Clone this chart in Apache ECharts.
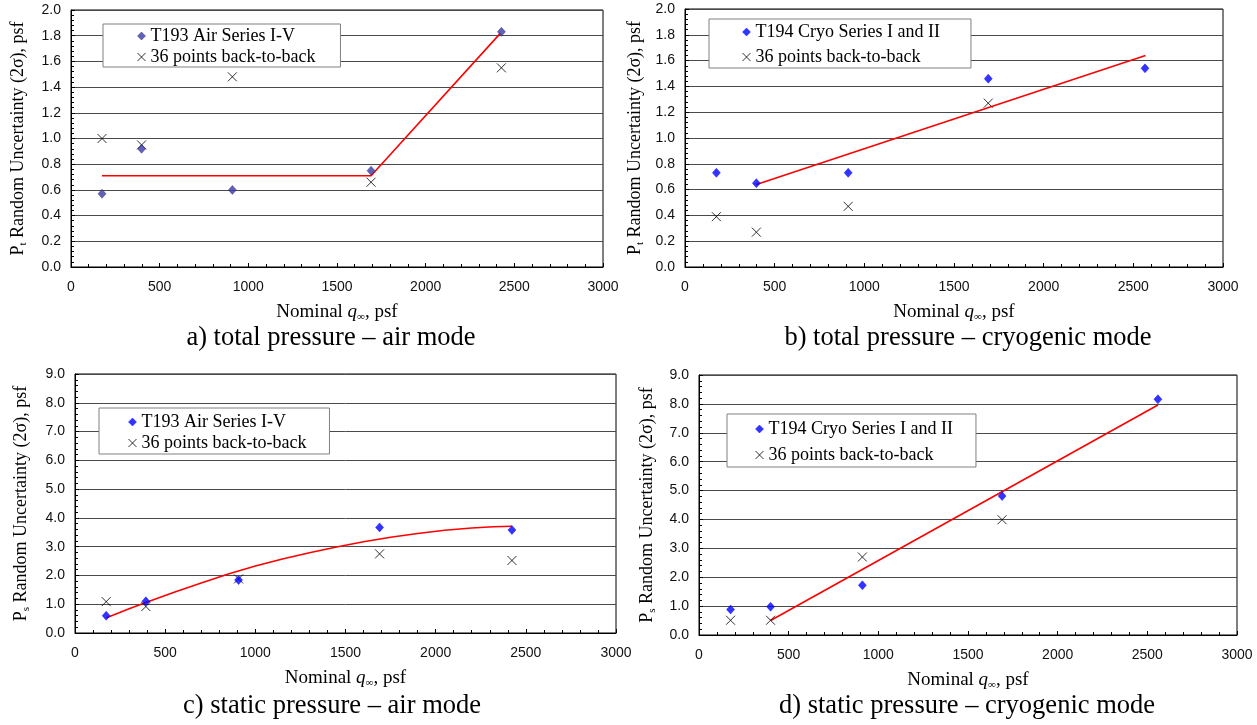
<!DOCTYPE html>
<html>
<head>
<meta charset="utf-8">
<script src="https://cdn.jsdelivr.net/npm/echarts@6/dist/echarts.min.js"></script>
<style>
html,body{margin:0;padding:0;background:#fff;}
#chart{width:1257px;height:725px;}
</style>
</head>
<body>
<div id="chart"></div>
<script>
// ---------- data ----------
// a) total pressure – air mode
const aX = [175, 398, 910, 1692, 2427];
const aSeries = [0.57, 0.92, 0.60, 0.75, 1.83];
const aBack = [1.00, 0.95, 1.48, 0.66, 1.55];
const aFitX = [175, 1692, 2422];
const aFitY = [0.71, 0.71, 1.82];

// b) total pressure – cryogenic mode
const bX = [175, 398, 910, 1691, 2565];
const bSeries = [0.73, 0.65, 0.73, 1.46, 1.54];
const bBackX = [175, 398, 910, 1691];
const bBack = [0.39, 0.27, 0.47, 1.27];
const bFitX = [398, 2568];
const bFitY = [0.64, 1.64];

// c) static pressure – air mode
const cX = [173, 393, 907, 1689, 2423];
const cSeries = [0.60, 1.10, 1.84, 3.67, 3.58];
const cBack = [1.09, 0.92, 1.88, 2.75, 2.52];
const cFitX = [175, 300, 400, 550, 700, 850, 1000, 1150, 1300, 1450, 1600, 1750, 1900, 2050, 2200, 2320, 2423];
const cFitY = [0.53, 0.84, 1.08, 1.42, 1.74, 2.05, 2.33, 2.57, 2.79, 2.99, 3.17, 3.33, 3.46, 3.57, 3.65, 3.69, 3.71];

// d) static pressure – cryogenic mode
const dX = [176, 399, 911, 1690, 2559];
const dSeries = [0.88, 0.98, 1.72, 4.81, 8.16];
const dBackX = [176, 399, 911, 1690];
const dBack = [0.51, 0.51, 2.70, 3.99];
const dFitX = [399, 2559];
const dFitY = [0.50, 7.96];

const airName = 'T193 Air Series I-V';
const cryoName = 'T194 Cryo Series I and II';
const backName = '36 points back-to-back';
const captions = ['a) total pressure – air mode', 'b) total pressure – cryogenic mode',
                  'c) static pressure – air mode', 'd) static pressure – cryogenic mode'];
const xTicks = {min: 0, max: 3000, interval: 500};
const yTicksTotal = {min: 0, max: 2, interval: 0.2};
const yTicksStatic = {min: 0, max: 9, interval: 1};

// ---------- helpers ----------
const SERIF = '"Liberation Serif","Times New Roman",serif';
const SANS = '"Liberation Sans",Arial,sans-serif';
const zip = (xs, ys) => xs.map((x, i) => [x, ys[i]]);
const CROSS = 'path://M0,0L10,10M10,0L0,10';

const grids = [
  {left: 71, top: 10, width: 532, height: 257},
  {left: 685, top: 9, width: 538, height: 258},
  {left: 75, top: 374, width: 541, height: 259},
  {left: 699, top: 375, width: 538, height: 260}
];

const nameRich = {
  m: {fontFamily: SERIF, fontSize: 19, lineHeight: 22, color: '#000'},
  i: {fontFamily: SERIF, fontSize: 19, lineHeight: 22, fontStyle: 'italic', color: '#000'},
  s: {fontFamily: SERIF, fontSize: 11, lineHeight: 12, verticalAlign: 'bottom', color: '#000'}
};
const yNameRich = {
  m: {fontFamily: SERIF, fontSize: 18, lineHeight: 22, color: '#000'},
  s: {fontFamily: SERIF, fontSize: 11, lineHeight: 12, verticalAlign: 'bottom', color: '#000'}
};

function xAxis(idx) {
  return {
    type: 'value', gridIndex: idx, min: xTicks.min, max: xTicks.max, interval: xTicks.interval,
    name: '{m|Nominal }{i|q}{s|∞}{m|, psf}',
    nameLocation: 'middle', nameGap: 34,
    nameTextStyle: {rich: nameRich},
    axisLine: {show: true, lineStyle: {color: '#000', width: 1}},
    axisTick: {show: true, inside: true, length: 4, lineStyle: {color: '#000'}},
    minorTick: {show: true, splitNumber: 5, length: 3, lineStyle: {color: '#000'}},
    axisLabel: {fontFamily: SANS, fontSize: 14, color: '#111', margin: 13,
                formatter: v => String(v)},
    splitLine: {show: false}
  };
}
function yAxis(idx, ticks, sub, gap) {
  return {
    type: 'value', gridIndex: idx, min: ticks.min, max: ticks.max, interval: ticks.interval,
    name: '{m|P}{s|' + sub + '}{m| Random Uncertainty (2σ), psf}',
    nameLocation: 'middle', nameGap: gap, nameRotate: 90,
    nameTextStyle: {rich: yNameRich},
    axisLine: {show: true, lineStyle: {color: '#000', width: 1}},
    axisTick: {show: true, inside: true, length: 4, lineStyle: {color: '#000'}},
    minorTick: {show: true, splitNumber: 5, length: 3, lineStyle: {color: '#000'}},
    axisLabel: {fontFamily: SANS, fontSize: 14, color: '#111', margin: 10,
                formatter: v => v.toFixed(1)},
    splitLine: {show: true, lineStyle: {color: '#4a4a4a', width: 1}}
  };
}
function legend(l, t, pad, gap, mainName, color, border) {
  return {
    left: l, top: t, orient: 'vertical', padding: pad, itemGap: gap,
    itemWidth: 8, itemHeight: 8,
    borderColor: '#808080', borderWidth: 1, backgroundColor: '#fff', borderRadius: 0,
    selectedMode: false,
    textStyle: {fontFamily: SERIF, fontSize: 18, lineHeight: 20, color: '#000'},
    data: [
      {name: mainName, icon: 'diamond', itemStyle: {color: color, borderColor: border, borderWidth: 0.5}},
      {name: backName, icon: CROSS, itemStyle: {color: 'none', borderColor: '#000', borderWidth: 1}}
    ]
  };
}
function panelSeries(idx, name, color, border, sx, sy, bx, by, fx, fy) {
  return [
    {type: 'line', xAxisIndex: idx, yAxisIndex: idx, data: zip(fx, fy), showSymbol: false,
     smooth: false, lineStyle: {color: '#ff0000', width: 1.6}, z: 2, silent: true},
    {type: 'scatter', name: backName, xAxisIndex: idx, yAxisIndex: idx, data: zip(bx, by),
     symbol: CROSS, symbolSize: 9,
     itemStyle: {color: 'none', borderColor: '#000', borderWidth: 1}, z: 3},
    {type: 'scatter', name: name, xAxisIndex: idx, yAxisIndex: idx, data: zip(sx, sy),
     symbol: 'diamond', symbolSize: [8, 9],
     itemStyle: {color: color, borderColor: border, borderWidth: 0.5}, z: 4}
  ];
}

const navy = '#3a3aa8', navyB = '#20206a';
const blue = '#0000ff';

const option = {
  animation: false,
  backgroundColor: '#fff',
  grid: grids.map(g => Object.assign({show: true, borderColor: '#000', borderWidth: 1, backgroundColor: 'transparent'}, g)),
  xAxis: [xAxis(0), xAxis(1), xAxis(2), xAxis(3)],
  yAxis: [yAxis(0, yTicksTotal, 't', 42), yAxis(1, yTicksTotal, 't', 39),
          yAxis(2, yTicksStatic, 's', 43), yAxis(3, yTicksStatic, 's', 41)],
  legend: [
    legend(103, 24, [2, 25, 0, 32], 1, airName, navy, navyB),
    legend(709, 19, [3, 31, 1, 31], 5, cryoName, blue, blue),
    legend(99, 408, [4, 23, 1, 27], 1, airName, blue, blue),
    legend(727, 414, [5, 23, 2, 26], 6, cryoName, blue, blue)
  ],
  title: [
    {text: captions[0], left: 331, top: 323},
    {text: captions[1], left: 968, top: 323},
    {text: captions[2], left: 332, top: 691},
    {text: captions[3], left: 967, top: 691}
  ].map(t => Object.assign({textAlign: 'center', padding: 0,
    textStyle: {fontFamily: SERIF, fontSize: 26.5, fontWeight: 'normal', color: '#000', lineHeight: 30}}, t)),
  series: [].concat(
    panelSeries(0, airName, navy, navyB, aX, aSeries, aX, aBack, aFitX, aFitY),
    panelSeries(1, cryoName, blue, blue, bX, bSeries, bBackX, bBack, bFitX, bFitY),
    panelSeries(2, airName, blue, blue, cX, cSeries, cX, cBack, cFitX, cFitY),
    panelSeries(3, cryoName, blue, blue, dX, dSeries, dBackX, dBack, dFitX, dFitY)
  )
};

const chart = echarts.init(document.getElementById('chart'), null, {renderer: 'canvas'});
chart.setOption(option);
</script>
</body>
</html>
